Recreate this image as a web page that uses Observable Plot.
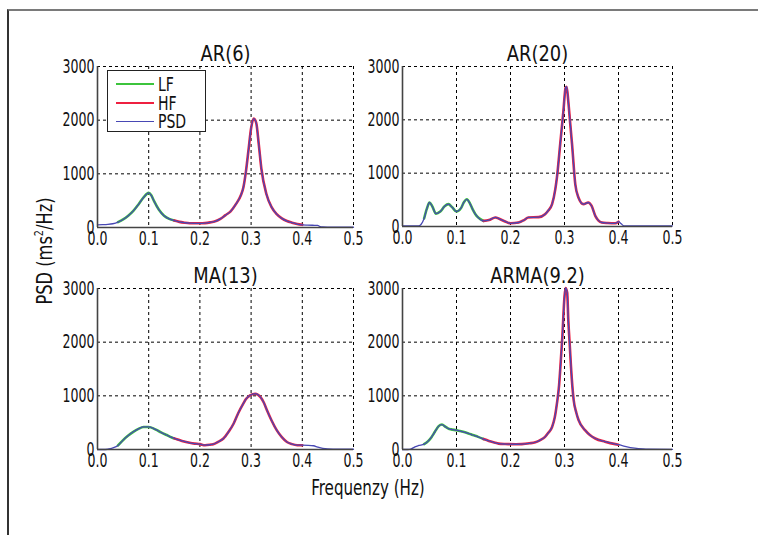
<!DOCTYPE html>
<html><head><meta charset="utf-8">
<script src="https://cdn.jsdelivr.net/npm/d3@7"></script>
<script src="https://cdn.jsdelivr.net/npm/@observablehq/plot@0.6"></script>
<style>
body{margin:0;background:#fff;}
#page{position:relative;width:758px;height:535px;overflow:hidden;background:#fff;font-family:"DejaVu Sans Condensed","Liberation Sans Narrow",sans-serif;font-stretch:condensed;color:#111;}
#frame{position:absolute;left:7px;top:9px;width:800px;height:600px;border-top:2px solid #7a7a7a;border-left:2px solid #333;}
.panel{position:absolute;}
#ylabel{position:absolute;left:44px;top:251px;transform:translate(-50%,-50%) rotate(-90deg) scale(0.82,1);font-size:22px;white-space:nowrap;}
#xlabel{position:absolute;left:368px;top:488px;transform:translate(-50%,-50%) scale(0.8,1);font-size:21px;white-space:nowrap;}
#legend{position:absolute;left:107px;top:70px;width:97px;height:60px;border:1px solid #222;background:#fff;font-size:20px;}
.li{position:absolute;left:8px;height:18px;display:flex;align-items:center;}
.li span{display:inline-block;width:38px;margin-right:4px;}
.li b{font-weight:normal;display:inline-block;transform:scale(0.78,1);transform-origin:left center;}
</style>
</head><body>
<div id="page">
  <div id="frame"></div>
  <div id="ylabel">PSD (ms<sup style="font-size:13px">2</sup>/Hz)</div>
  <div id="xlabel">Frequenzy (Hz)</div>
</div>
<script>
// ---- data ----
const panelTitles = ["AR(6)", "AR(20)", "MA(13)", "ARMA(9.2)"];
const xTicks = [0, 0.1, 0.2, 0.3, 0.4, 0.5];
const yTicks = [0, 1000, 2000, 3000];
const seriesNames = ["LF", "HF", "PSD"];
const lfBand = [0.04, 0.15];
const hfBand = [0.15, 0.4];

const ar6Freq = [0,0.01,0.02,0.03,0.04,0.05,0.06,0.07,0.08,0.09,0.1,0.105,0.11,0.12,0.13,0.14,0.15,0.16,0.17,0.18,0.19,0.2,0.21,0.22,0.23,0.24,0.25,0.26,0.27,0.28,0.285,0.29,0.295,0.3,0.305,0.31,0.315,0.32,0.33,0.34,0.35,0.36,0.37,0.38,0.39,0.4,0.41,0.42,0.43,0.435,0.44,0.45,0.5];
const ar6Psd  = [50,52,57,70,100,150,220,310,430,560,645,600,500,330,220,160,130,105,90,80,78,78,82,95,115,160,230,300,430,600,750,1050,1450,1850,2030,1950,1550,1100,620,380,250,170,120,90,65,50,45,42,40,15,10,8,5];

const ar20Freq = [0,0.02,0.03,0.04,0.045,0.05,0.055,0.062,0.07,0.078,0.085,0.092,0.1,0.108,0.114,0.119,0.125,0.13,0.135,0.14,0.15,0.16,0.172,0.18,0.19,0.2,0.215,0.225,0.233,0.252,0.264,0.27,0.277,0.283,0.286,0.292,0.298,0.302,0.304,0.307,0.31,0.314,0.32,0.326,0.335,0.344,0.35,0.357,0.363,0.369,0.38,0.394,0.4,0.405,0.41,0.42,0.5];
const ar20Psd  = [10,10,12,150,330,450,380,240,280,380,420,360,280,340,460,510,430,320,230,170,105,120,170,140,95,60,75,120,170,175,230,300,420,700,920,1540,2170,2600,2620,2350,2000,1540,790,540,420,450,390,200,110,75,65,60,90,50,12,10,10];

const ma13Freq = [0,0.01,0.02,0.025,0.03,0.04,0.05,0.06,0.07,0.08,0.09,0.1,0.11,0.116,0.125,0.135,0.145,0.15,0.155,0.165,0.18,0.19,0.2,0.21,0.22,0.226,0.235,0.246,0.256,0.266,0.275,0.285,0.29,0.298,0.308,0.318,0.325,0.331,0.34,0.35,0.36,0.37,0.38,0.39,0.4,0.412,0.422,0.43,0.44,0.45,0.47,0.5];
const ma13Psd  = [0,0,5,15,30,75,175,260,330,385,420,420,390,360,315,270,225,207,190,160,125,110,100,80,90,100,140,205,330,485,680,860,940,1010,1040,980,870,730,540,360,230,140,100,80,80,78,70,45,20,10,5,5];

const arma92Freq = [0,0.01,0.015,0.023,0.03,0.04,0.048,0.054,0.06,0.067,0.073,0.08,0.085,0.09,0.1,0.11,0.122,0.13,0.14,0.15,0.16,0.17,0.178,0.19,0.196,0.21,0.221,0.235,0.246,0.255,0.264,0.27,0.277,0.282,0.286,0.29,0.292,0.296,0.3,0.302,0.305,0.307,0.31,0.312,0.317,0.322,0.326,0.338,0.347,0.357,0.375,0.394,0.4,0.412,0.43,0.445,0.455,0.5];
const arma92Psd  = [0,0,5,50,75,100,160,235,330,435,465,420,390,375,360,335,300,270,235,195,160,130,110,102,100,98,100,115,135,175,235,310,420,600,860,1200,1480,2100,2850,3010,2920,2420,1900,1545,920,680,550,360,270,205,145,100,90,60,25,10,5,3];

// ---- layout (frame boxes in page pixels) ----
const layout = [
  {x0: 97,  y0: 66,  w: 256, h: 161},
  {x0: 402, y0: 66,  w: 270, h: 160},
  {x0: 97,  y0: 288, w: 256, h: 161},
  {x0: 402, y0: 288, w: 270, h: 161}
];
const colors = {LF: "#3cc43c", HF: "#ee2040", PSD: "#4848b4"};
const tickTargetWidth = 32;   // px width of "3000" in the reference
const titleTargetWidth = 50;  // px width of "AR(6)" in the reference

const panelData = [[ar6Freq, ar6Psd], [ar20Freq, ar20Psd], [ma13Freq, ma13Psd], [arma92Freq, arma92Psd]];
const page = document.getElementById("page");
const mL = 50, mT = 40, mR = 16, mB = 30;
const fontFam = '"DejaVu Sans Condensed","Liberation Sans Narrow",sans-serif';

function squeeze(t, s) {
  const x = +(t.getAttribute("x") || 0);
  const tr = t.getAttribute("transform") || "";
  t.setAttribute("transform", `${tr} translate(${x},0) scale(${s},1) translate(${-x},0)`);
}

let tickScale = null, titleScale = null;
panelData.forEach(([fr, ps], i) => {
  const rows = fr.map((f, j) => ({f, v: ps[j]}));
  const lf = rows.filter(d => d.f >= lfBand[0] && d.f <= lfBand[1]);
  const hf = rows.filter(d => d.f >= hfBand[0] && d.f <= hfBand[1]);
  const L = layout[i];
  const chart = Plot.plot({
    width: mL + L.w + mR,
    height: mT + L.h + mB,
    marginLeft: mL, marginTop: mT, marginRight: mR, marginBottom: mB,
    style: {fontFamily: fontFam, fontStretch: "condensed", fontSize: "19px", background: "transparent", color: "#111", overflow: "visible"},
    x: {domain: [0, 0.5]},
    y: {domain: [0, 3000]},
    marks: [
      Plot.gridX(xTicks.slice(1), {stroke: "#000", strokeOpacity: 1, strokeDasharray: "3,3", strokeWidth: 1}),
      Plot.gridY(yTicks.slice(1), {stroke: "#000", strokeOpacity: 1, strokeDasharray: "3,3", strokeWidth: 1}),
      Plot.axisX(xTicks, {tickFormat: d3.format(".1f"), tickSize: 0, tickPadding: 4, label: null, fontSize: 19}),
      Plot.axisY(yTicks, {tickFormat: d => String(d), tickSize: 0, tickPadding: 3, label: null, fontSize: 19}),
      Plot.line(lf, {x: "f", y: "v", stroke: colors.LF, strokeWidth: 2.6, curve: "monotone-x"}),
      Plot.line(hf, {x: "f", y: "v", stroke: colors.HF, strokeWidth: 2.6, curve: "monotone-x"}),
      Plot.line(rows, {x: "f", y: "v", stroke: colors.PSD, strokeWidth: 1.3, curve: "monotone-x"}),
      Plot.ruleX([0], {stroke: "#444", strokeWidth: 1.6}),
      Plot.ruleY([0], {stroke: "#444", strokeWidth: 1.6}),
      Plot.text([panelTitles[i]], {frameAnchor: "top", dy: -20, fontSize: 21, fill: "#111"})
    ]
  });
  chart.classList.add("panel");
  chart.style.left = (L.x0 - mL) + "px";
  chart.style.top = (L.y0 - mT) + "px";
  page.appendChild(chart);
  const texts = Array.from(chart.querySelectorAll("text"));
  const titleNode = texts.find(t => t.textContent === panelTitles[i]);
  if (tickScale === null) {
    const t3000 = texts.find(t => t.textContent === "3000");
    tickScale = Math.min(1, tickTargetWidth / t3000.getComputedTextLength());
    titleScale = Math.min(1, titleTargetWidth / titleNode.getComputedTextLength());
  }
  texts.forEach(t => squeeze(t, t === titleNode ? titleScale : tickScale));
});

// legend
const leg = document.createElement("div");
leg.id = "legend";
seriesNames.forEach((name, k) => {
  const item = document.createElement("div");
  item.className = "li";
  item.style.top = (4 + k * 18.5) + "px";
  const sw = document.createElement("span");
  sw.style.borderTop = (name === "PSD" ? 1.6 : 2.6) + "px solid " + colors[name];
  item.appendChild(sw);
  const lab = document.createElement("b");
  lab.textContent = name;
  item.appendChild(lab);
  leg.appendChild(item);
});
page.appendChild(leg);
</script>
</body></html>
